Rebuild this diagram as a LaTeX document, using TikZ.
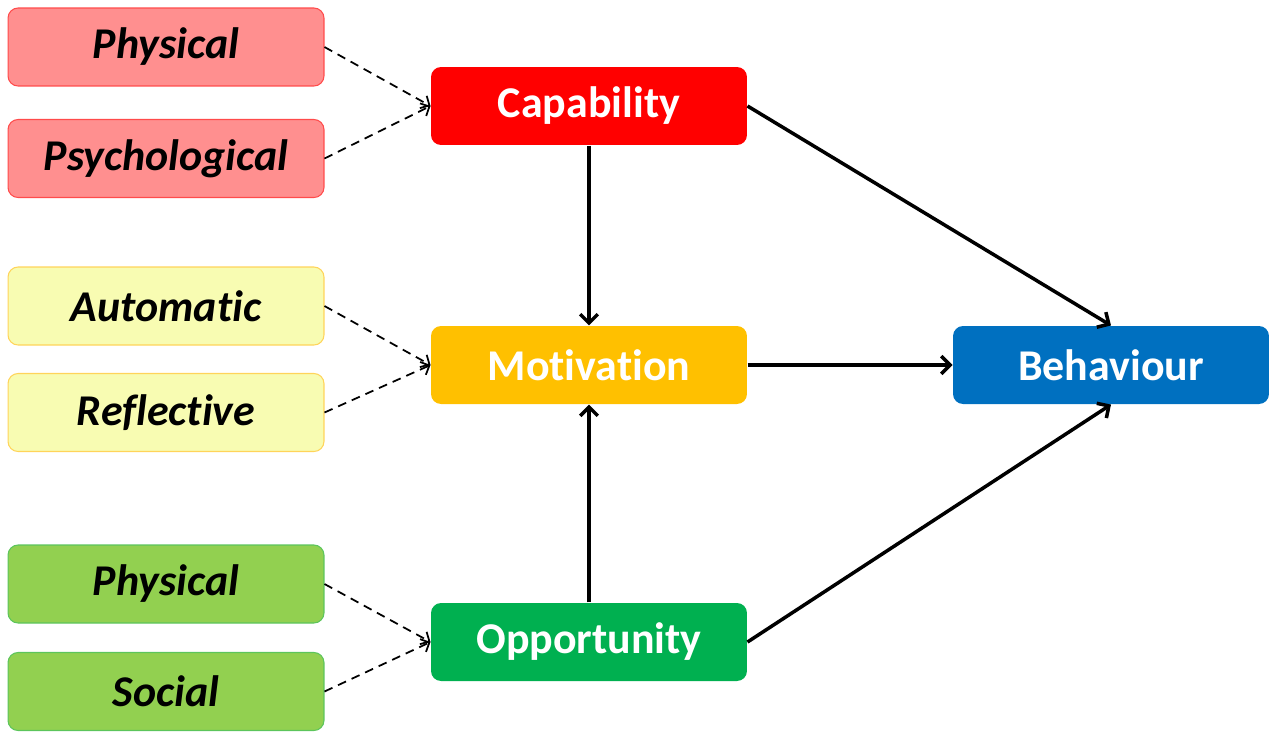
\documentclass[tikz,border=0pt]{standalone}
\usepackage{fontspec}
\setmainfont[Ligatures=NoCommon]{Carlito}
\usetikzlibrary{arrows.meta}
\definecolor{redfill}{HTML}{FF8F8F}
\definecolor{redline}{HTML}{FF4B4B}
\definecolor{yelfill}{HTML}{F8FCB2}
\definecolor{yelline}{HTML}{FFD45A}
\definecolor{grnfill}{HTML}{92D050}
\definecolor{grnline}{HTML}{5CC55C}
\definecolor{capcol}{HTML}{FF0000}
\definecolor{motcol}{HTML}{FFC000}
\definecolor{oppcol}{HTML}{00B050}
\definecolor{behcol}{HTML}{0070C0}
\tikzset{
  box/.style={rounded corners=0.2cm, minimum width=6.32cm, minimum height=1.56cm, inner sep=0pt, line width=0.6pt},
  sub/.style={box, font=\fontsize{25}{30}\selectfont\bfseries\itshape},
  main/.style={box, draw=none, text=white, font=\fontsize{25}{30}\selectfont\bfseries},
  solidarrow/.style={line width=2pt, -{Straight Barb[length=5pt,width=10pt,line width=2pt]}},
  dasharrow/.style={line width=1pt, dash pattern=on 5pt off 3.5pt, -{Straight Barb[length=4pt,width=8pt,line width=1pt]}}
}
\begin{document}
\begin{tikzpicture}[x=0.02cm,y=-0.02cm]
\useasboundingbox (0,0) rectangle (1271,731);
\node[sub, fill=redfill, draw=redline] (p1) at (166,47) {Physical};
\node[sub, fill=redfill, draw=redline] (p2) at (166,158.5) {Psychological};
\node[sub, fill=yelfill, draw=yelline] (a1) at (166,306) {Automatic};
\node[sub, fill=yelfill, draw=yelline] (r1) at (166,412.5) {Reflective};
\node[sub, fill=grnfill, draw=grnline] (g1) at (166,584) {Physical};
\node[sub, fill=grnfill, draw=grnline] (g2) at (166,691.5) {Social};
\node[main, fill=capcol] (cap) at (589,106) {Capability};
\node[main, fill=motcol] (mot) at (589,365) {Motivation};
\node[main, fill=oppcol] (opp) at (589,642) {Opportunity};
\node[main, fill=behcol] (beh) at (1111,365) {Behaviour};
\draw[dasharrow] (p1.east) -- (cap.west);
\draw[dasharrow] (p2.east) -- (cap.west);
\draw[dasharrow] (a1.east) -- (mot.west);
\draw[dasharrow] (r1.east) -- (mot.west);
\draw[dasharrow] (g1.east) -- (opp.west);
\draw[dasharrow] (g2.east) -- (opp.west);
\draw[solidarrow] (cap.south) -- (mot.north);
\draw[solidarrow] (opp.north) -- (mot.south);
\draw[solidarrow] (mot.east) -- (beh.west);
\draw[solidarrow] (cap.east) -- (beh.north);
\draw[solidarrow] (opp.east) -- (beh.south);
\end{tikzpicture}
\end{document}
